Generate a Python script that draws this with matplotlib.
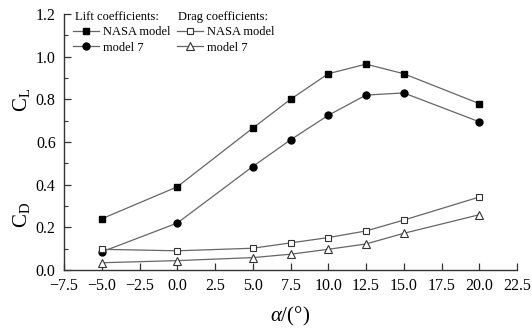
import matplotlib
matplotlib.use("Agg")
import matplotlib.pyplot as plt
from matplotlib.ticker import MultipleLocator
from matplotlib.lines import Line2D

plt.rcParams["font.family"] = ["Liberation Serif", "DejaVu Serif"]
plt.rcParams["mathtext.fontset"] = "custom"
plt.rcParams["mathtext.rm"] = "Liberation Serif"
plt.rcParams["mathtext.it"] = "Liberation Serif:italic"

alpha = [-5, 0, 5, 7.5, 10, 12.5, 15, 20]
cl_nasa = [0.24, 0.39, 0.665, 0.80, 0.92, 0.965, 0.92, 0.78]
cl_model7 = [0.085, 0.22, 0.485, 0.61, 0.725, 0.82, 0.83, 0.695]
cd_nasa = [0.097, 0.09, 0.102, 0.127, 0.152, 0.183, 0.234, 0.342]
cd_model7 = [0.034, 0.044, 0.058, 0.074, 0.097, 0.122, 0.172, 0.259]

line_c = "#666666"

fig = plt.figure(figsize=(5.32, 3.28), dpi=100)
ax = fig.add_axes([64 / 532, 58 / 328, 453 / 532, 256 / 328])

styles = [
    dict(marker="s", ms=4.5, mfc="black", mec="black"),
    dict(marker="o", ms=5, mfc="black", mec="black"),
    dict(marker="s", ms=4, mfc="white", mec="#333333", mew=0.8),
    dict(marker="^", ms=6, mfc="white", mec="#333333", mew=0.8),
]
series = [cl_nasa, cl_model7, cd_nasa, cd_model7]
for ys, st in zip(series, styles):
    ax.plot(alpha, ys, color=line_c, lw=0.9, **st)

ax.set_xlim(-7.5, 22.5)
ax.set_ylim(0, 1.2)
ax.xaxis.set_major_locator(MultipleLocator(2.5))
ax.yaxis.set_major_locator(MultipleLocator(0.2))
ax.yaxis.set_minor_locator(MultipleLocator(0.1))
ax.tick_params(which="both", direction="in", labelsize=11.5, color="#333333")
ax.tick_params(which="major", length=5, width=0.9)
ax.tick_params(which="minor", length=3, width=0.8)
ax.tick_params(axis="y", pad=6)
ax.tick_params(axis="x", pad=6)
ax.set_xticklabels([f"{v:.1f}".replace("-", "\u2212") for v in ax.get_xticks()])
ax.set_yticklabels([f"{v:.1f}" for v in ax.get_yticks()])
for s in ["top", "right"]:
    ax.spines[s].set_visible(False)
for s in ["left", "bottom"]:
    ax.spines[s].set_linewidth(1.0)
    ax.spines[s].set_color("#333333")

fig.text(22 / 532, 1 - 100 / 328, r"$\mathrm{C}_\mathrm{L}$", rotation=90,
         ha="center", va="center", fontsize=15)
fig.text(22 / 532, 1 - 215 / 328, r"$\mathrm{C}_\mathrm{D}$", rotation=90,
         ha="center", va="center", fontsize=15)
fig.text(290 / 532, 1 - 316 / 328, r"$\alpha$/(°)", ha="center", va="center",
         fontsize=15)

# legend: two columns with their own headings
handles = [Line2D([], [], color=line_c, lw=0.9, **st) for st in styles]
labels = ["NASA model", "model 7", "NASA model", "model 7"]
fig.legend(handles, labels, ncol=2, frameon=False, fontsize=9,
           loc="upper left", bbox_to_anchor=(73 / 532, 1 - 26 / 328),
           bbox_transform=fig.transFigure,
           handlelength=2.1, handletextpad=0.3, columnspacing=0.5,
           labelspacing=0.3, borderaxespad=0, borderpad=0)
fig.text(75 / 532, 1 - 17 / 328, "Lift coefficients:", ha="left", va="center", fontsize=9)
fig.text(178 / 532, 1 - 17 / 328, "Drag coefficients:", ha="left", va="center", fontsize=9)

fig.savefig("out.png", dpi=100)
